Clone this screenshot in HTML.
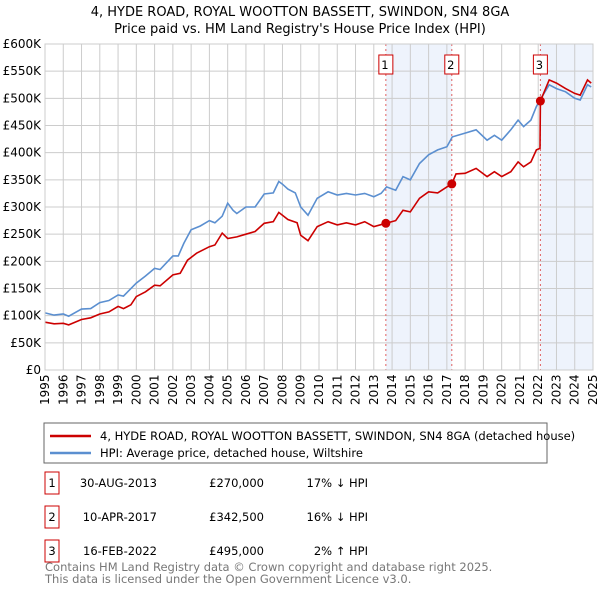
<!DOCTYPE html>
<html><head><meta charset="utf-8"><style>
body{margin:0;background:#fff;width:600px;height:590px;overflow:hidden;font-family:"Liberation Sans","DejaVu Sans",sans-serif}
svg text{font-family:"DejaVu Sans","Liberation Sans",sans-serif}
</style></head><body>
<svg id="c" width="600" height="590">
<text x="300" y="16" text-anchor="middle" font-size="13">4, HYDE ROAD, ROYAL WOOTTON BASSETT, SWINDON, SN4 8GA</text>
<text x="300" y="33" text-anchor="middle" font-size="13">Price paid vs. HM Land Registry's House Price Index (HPI)</text>
<g id="g"></g>
<rect x="44" y="423" width="503" height="40" fill="#fff" stroke="#666"/>
<line x1="50" y1="436" x2="91" y2="436" stroke="#cc0000" stroke-width="2.5"/>
<text x="100" y="440" font-size="11.5">4, HYDE ROAD, ROYAL WOOTTON BASSETT, SWINDON, SN4 8GA (detached house)</text>
<line x1="50" y1="453" x2="91" y2="453" stroke="#5b8fd0" stroke-width="2.5"/>
<text x="100" y="457" font-size="11.5">HPI: Average price, detached house, Wiltshire</text>
<g font-size="11.5">
<rect x="45" y="472" width="14" height="22" fill="#fff" stroke="#cc0000"/><text x="52" y="487" text-anchor="middle">1</text>
<text x="157" y="487" text-anchor="end">30-AUG-2013</text><text x="264" y="487" text-anchor="end">£270,000</text><text x="368" y="487" text-anchor="end">17% ↓ HPI</text>
<rect x="45" y="506" width="14" height="22" fill="#fff" stroke="#cc0000"/><text x="52" y="521" text-anchor="middle">2</text>
<text x="157" y="521" text-anchor="end">10-APR-2017</text><text x="264" y="521" text-anchor="end">£342,500</text><text x="368" y="521" text-anchor="end">16% ↓ HPI</text>
<rect x="45" y="540" width="14" height="22" fill="#fff" stroke="#cc0000"/><text x="52" y="555" text-anchor="middle">3</text>
<text x="157" y="555" text-anchor="end">16-FEB-2022</text><text x="264" y="555" text-anchor="end">£495,000</text><text x="368" y="555" text-anchor="end">2% ↑ HPI</text>
</g>
<text x="45" y="571" font-size="11.5" fill="#777">Contains HM Land Registry data © Crown copyright and database right 2025.</text>
<text x="45" y="583" font-size="11.5" fill="#777">This data is licensed under the Open Government Licence v3.0.</text>
</svg>
<script>
const hpiYears=[1995,1995.5,1996,1996.3,1997,1997.5,1998,1998.5,1999,1999.3,2000,2000.5,2001,2001.3,2002,2002.3,2002.6,2003,2003.5,2004,2004.3,2004.7,2005,2005.3,2005.5,2006,2006.5,2007,2007.5,2007.8,2008,2008.3,2008.7,2009,2009.4,2009.9,2010.5,2011,2011.5,2012,2012.5,2013,2013.4,2013.7,2014.2,2014.6,2015,2015.5,2016,2016.5,2017,2017.3,2018,2018.6,2019.2,2019.6,2020,2020.5,2020.9,2021.2,2021.6,2021.9,2022.1,2022.6,2023,2023.5,2024,2024.3,2024.7,2024.9];
const hpiValues=[105,101,103,99,112,113,124,128,138,136,160,173,187,185,210,210,233,258,265,275,271,283,307,294,288,300,300,324,326,347,342,333,326,300,285,316,328,322,325,322,325,319,325,337,331,356,350,380,396,405,411,429,436,442,423,432,423,442,460,448,460,485,497,525,518,512,500,497,525,521];
const priceYears=[1995,1995.5,1996,1996.3,1997,1997.5,1998,1998.5,1999,1999.3,1999.7,2000,2000.5,2001,2001.3,2002,2002.4,2002.8,2003.3,2004,2004.3,2004.7,2005,2005.5,2006,2006.5,2007,2007.5,2007.8,2008.3,2008.8,2009,2009.4,2009.9,2010.5,2011,2011.5,2012,2012.5,2013,2013.66,2014.2,2014.6,2015,2015.5,2016,2016.5,2017,2017.27,2017.5,2018,2018.6,2019.2,2019.6,2020,2020.5,2020.9,2021.2,2021.6,2021.9,2022.1,2022.12,2022.6,2023,2023.5,2024,2024.3,2024.7,2024.9];
const priceValues=[88,85,86,83,93,96,103,107,117,113,120,135,144,156,155,175,178,202,215,227,230,252,242,245,250,255,270,273,290,277,271,248,238,264,273,267,271,267,273,264,270,275,294,291,316,328,326,337,342.5,361,362,371,356,365,356,365,383,374,383,405,408,495,534,528,518,509,506,534,528];
const saleYears=[2013.66,2017.27,2022.12];
const saleValues=[270,342.5,495];
const saleLabels=["1","2","3"];
const yTicks=[0,50,100,150,200,250,300,350,400,450,500,550,600];
const yTickLabels=["£0","£50K","£100K","£150K","£200K","£250K","£300K","£350K","£400K","£450K","£500K","£550K","£600K"];
const xTicks=[1995,1996,1997,1998,1999,2000,2001,2002,2003,2004,2005,2006,2007,2008,2009,2010,2011,2012,2013,2014,2015,2016,2017,2018,2019,2020,2021,2022,2023,2024,2025];
const L=45,R=593,T=44,B=370;
const xs=y=>L+(y-1995)/30*(R-L);
const ys=v=>B-v/600*(B-T);
const NS="http://www.w3.org/2000/svg",g=document.getElementById('g');
function mk(t,a,p){const e=document.createElementNS(NS,t);for(const k in a)e.setAttribute(k,a[k]);(p||g).appendChild(e);return e;}
// shading
const sh1=mk('rect',{x:xs(saleYears[0]),y:T,width:xs(saleYears[1])-xs(saleYears[0]),height:B-T,fill:'#eef3fc'});


const sh2=mk('rect',{x:xs(saleYears[2]),y:T,width:R-xs(saleYears[2]),height:B-T,fill:'#eef3fc'});


yTicks.forEach((v,i)=>{
 const l=mk('line',{x1:L,x2:R,y1:ys(v),y2:ys(v),stroke:'#ccc'});
 
 
 const t=mk('text',{x:L-4,y:ys(v)+4,'text-anchor':'end','font-size':'12'});t.textContent=yTickLabels[i];
 
 
});
xTicks.forEach(y=>{
 const l=mk('line',{x1:xs(y),x2:xs(y),y1:T,y2:B,stroke:'#ccc'});
 
 
 const t=mk('text',{x:0,y:0,'font-size':'12',transform:`translate(${xs(y)+4},${B+35}) rotate(-90)`});t.textContent=y;
 
 
});
saleYears.forEach((y,i)=>{
 const l=mk('line',{x1:xs(y),x2:xs(y),y1:T,y2:B,stroke:'#e06060','stroke-dasharray':'2,3'});
 
 
 const r=mk('rect',{x:xs(y)-7,y:55,width:14,height:19,fill:'#fff',stroke:'#cc0000'});
 
 
 const t=mk('text',{x:xs(y)-1,y:69,'text-anchor':'middle','font-size':'11.5'});t.textContent=saleLabels[i];
 
 
});
const pts=(xa,va)=>xa.map((x,i)=>xs(x).toFixed(1)+','+ys(va[i]).toFixed(1)).join(' ');
const hl=mk('polyline',{points:pts(hpiYears,hpiValues),fill:'none',stroke:'#5b8fd0','stroke-width':1.6});


const pl=mk('polyline',{points:pts(priceYears,priceValues),fill:'none',stroke:'#cc0000','stroke-width':1.6});


saleYears.forEach((y,i)=>{
 const c=mk('circle',{cx:xs(y),cy:ys(saleValues[i]),r:4.5,fill:'#cc0000'});
 
 
});
const ax=mk('rect',{x:L,y:T,width:R-L,height:B-T,fill:'none',stroke:'#ccc'});


</script>
</body></html>
